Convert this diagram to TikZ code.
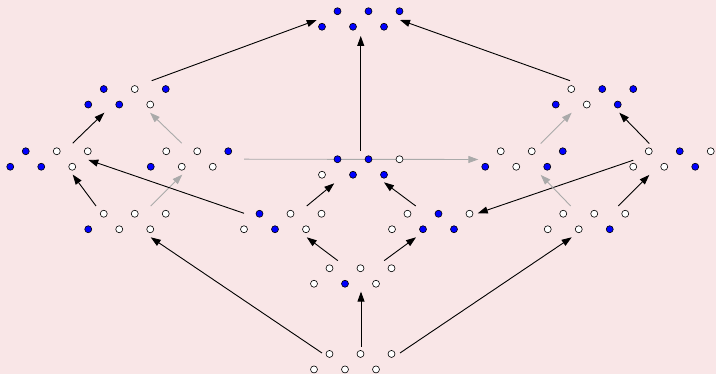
\documentclass[tikz,border=0pt]{standalone}
\usepackage{xcolor}
\usepackage{tikz}
\usetikzlibrary{arrows.meta,calc}
\definecolor{bgPink}{HTML}{F9E6E7}
\definecolor{fullDot}{HTML}{0000FF}
\definecolor{softArrow}{HTML}{AAAAAA}

% six sites of one configuration, left to right (bottom, top, bottom, ...)
\newcommand{\sites}[2]{%
  \foreach \fc [count=\k from 0] in {#2}
    \node[site, fill=\fc] (#1-\k) at ($(#1.center)+({\k*15.5-38.75},{mod(\k,2)*15.5-7.75})$) {};
}

\begin{document}
\begin{tikzpicture}[
  x=1pt, y=1pt,
  cfg/.style={rectangle, minimum width=93.5pt, minimum height=31.5pt, inner sep=0pt},
  site/.style={circle, draw=black, line width=0.6pt, minimum size=7pt, inner sep=0pt},
  move/.style={-{Triangle[length=10pt,width=7pt]}, line width=0.9pt, black},
  faint/.style={move, softArrow},
]
\fill[bgPink] (0,0) rectangle (716,374);
\useasboundingbox (0,0) rectangle (716,374);

% configurations
\node[cfg] (T)  at (360.75,355) {};
\node[cfg] (L1) at (127,277.2) {};
\node[cfg] (R1) at (594.5,277.2) {};
\node[cfg] (L2) at (49,215) {};
\node[cfg] (L3) at (189.5,215) {};
\node[cfg] (C1) at (360.75,207) {};
\node[cfg] (R3) at (524,215) {};
\node[cfg] (R2) at (672,215) {};
\node[cfg] (LB) at (127,152.5) {};
\node[cfg] (M1) at (282.75,152.5) {};
\node[cfg] (M2) at (430.75,152.5) {};
\node[cfg] (RB) at (586.5,152.5) {};
\node[cfg] (MB) at (352.75,98) {};
\node[cfg] (B)  at (352.75,12.3) {};

% moves
\draw[move] ($(B)+(8.25,15)$) -- ($(MB)+(8.25,-15.6)$);
\draw[move] ($(B)+(-30.75,8.7)$) -- ($(LB)+(23.7,-15.8)$);
\draw[move] ($(B)+(47.25,8.7)$) -- ($(RB)+(-14.8,-15.8)$);
\draw[move] ($(MB)+(-15,15.4)$) -- ($(M1)+(24,-15.8)$);
\draw[move] ($(MB)+(31.5,15.4)$) -- ($(M2)+(-14.75,-15.8)$);
\draw[move] ($(LB)+(-31,15.5)$) -- ($(L2)+(23.7,-15.6)$);
\draw[faint] ($(LB)+(23.7,15.5)$) -- ($(L3)+(-7.2,-15.6)$);
\draw[move] ($(M1)+(-38.75,8.2)$) -- ($(L2)+(39.3,-0.9)$);
\draw[move] ($(M1)+(24,15.5)$) -- ($(C1)+(-26.5,-16.3)$);
\draw[move] ($(M2)+(-15,15.5)$) -- ($(C1)+(23.25,-15.3)$);
\draw[move] ($(R2)+(-38.7,-1.2)$) -- ($(M2)+(47,8.2)$);
\draw[faint] ($(RB)+(-15.8,15.5)$) -- ($(R3)+(16.7,-15.9)$);
\draw[move] ($(RB)+(31.8,15.5)$) -- ($(R2)+(-22.7,-15.9)$);
\draw[move] ($(L2)+(23.7,15.8)$) -- ($(L1)+(-22.7,-15.9)$);
\draw[faint] ($(L3)+(-7.8,15.8)$) -- ($(L1)+(23,-15.9)$);
\draw[faint] ($(L3)+(54.5,-0.2)$) -- ($(R3)+(-45.7,-0.5)$);
\draw[faint] ($(R3)+(16.7,15.5)$) -- ($(R1)+(-22.8,-15.9)$);
\draw[move] ($(R2)+(-22.7,15.5)$) -- ($(R1)+(24.8,-15.9)$);
\draw[move] ($(C1)+(0,16)$) -- ($(T)+(0,-17)$);
\draw[move] ($(L1)+(24.7,16.1)$) -- ($(T)+(-44,-1)$);
\draw[move] ($(R1)+(-24.5,16.1)$) -- ($(T)+(39.25,-1)$);

% sites on top of the moves
\sites{T}{fullDot,fullDot,fullDot,fullDot,fullDot,fullDot}
\sites{L1}{fullDot,fullDot,fullDot,white,white,fullDot}
\sites{R1}{fullDot,white,white,fullDot,fullDot,fullDot}
\sites{L2}{fullDot,fullDot,fullDot,white,white,white}
\sites{L3}{fullDot,white,white,white,white,fullDot}
\sites{C1}{white,fullDot,fullDot,fullDot,fullDot,white}
\sites{R3}{fullDot,white,white,white,fullDot,fullDot}
\sites{R2}{white,white,white,fullDot,fullDot,white}
\sites{LB}{fullDot,white,white,white,white,white}
\sites{M1}{white,fullDot,fullDot,white,white,white}
\sites{M2}{white,white,fullDot,fullDot,fullDot,white}
\sites{RB}{white,white,white,white,fullDot,white}
\sites{MB}{white,white,fullDot,white,white,white}
\sites{B}{white,white,white,white,white,white}

\end{tikzpicture}
\end{document}
